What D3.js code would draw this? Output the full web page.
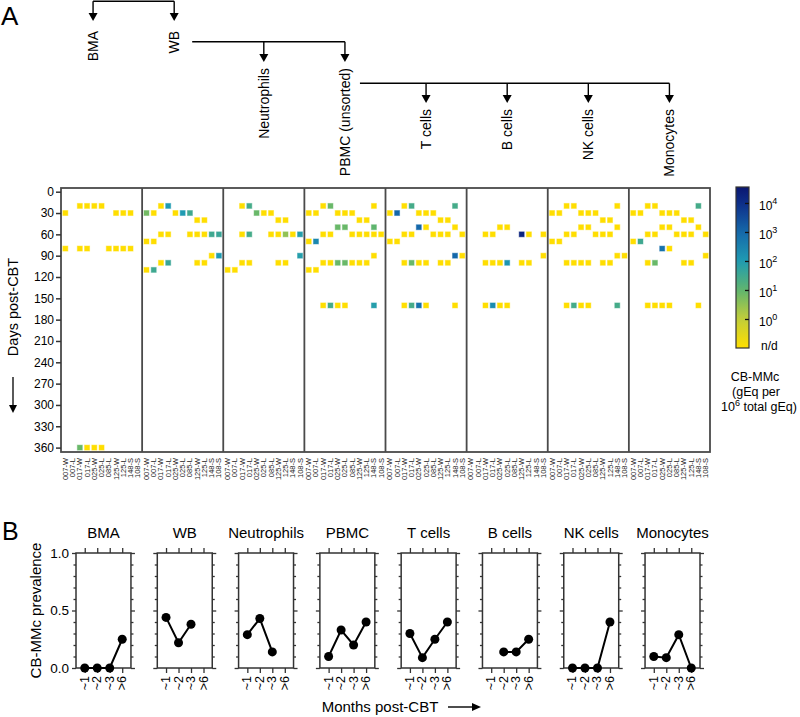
<!DOCTYPE html>
<html><head><meta charset="utf-8">
<script src="https://cdn.jsdelivr.net/npm/d3@7"></script>
<style>
body{margin:0;background:#fff}
svg{display:block;font-family:"Liberation Sans",Arial,Helvetica,sans-serif}
</style></head><body>
<svg id="c" width="800" height="717"></svg>
<script>
// ---------------- DATA ----------------
const cellTypes = ["BMA","WB","Neutrophils","PBMC (unsorted)","T cells","B cells","NK cells","Monocytes"];
const panelTitlesB = ["BMA","WB","Neutrophils","PBMC","T cells","B cells","NK cells","Monocytes"];
const patients = ["007-W","007-L","017-W","017-L","025-W","025-L","085-L","125-W","125-L","148-S","108-S"];
const dayTicks = [0,30,60,90,120,150,180,210,240,270,300,330,360];
const colorbarTicks = [0,1,2,3,4];
// samples: [day post-CBT, patient index, log10 CB-MMc (null = n/d)]
const hmBMA = [[20,2,null],[20,3,null],[20,4,null],[20,5,null],
  [30,0,null],[30,7,null],[30,8,null],[30,9,null],
  [80,0,null],[80,2,null],[80,3,null],[80,6,null],[80,7,null],[80,8,null],[80,9,null],
  [360,2,0.9],[360,3,null],[360,4,null],[360,5,null]];
const hmWB = [[20,2,null],[20,3,2.0],
  [30,0,0.8],[30,1,null],[30,4,null],[30,5,2.0],[30,6,1.5],
  [40,7,null],[40,8,null],
  [60,2,null],[60,3,null],[60,6,null],[60,7,null],[60,8,null],[60,9,1.5],[60,10,1.6],
  [70,0,null],[70,1,null],
  [90,9,null],[90,10,2.0],
  [100,2,null],[100,3,1.6],[100,7,null],[100,8,null],
  [110,0,null],[110,1,1.5]];
const hmNeutrophils = [[20,2,null],[20,3,1.4],
  [30,4,0.9],[30,5,null],[30,6,null],
  [40,7,null],[40,8,null],
  [60,2,null],[60,3,1.4],[60,6,null],[60,7,null],[60,8,0.5],[60,9,null],[60,10,1.9],
  [90,10,1.9],
  [100,2,null],[100,3,null],[100,7,null],[100,8,null],
  [110,0,null],[110,1,null]];
const hmPBMC = [[20,2,null],[20,3,0.9],[20,9,null],
  [30,0,null],[30,1,null],[30,4,null],[30,5,null],[30,6,null],
  [40,7,null],[40,8,null],
  [50,4,0.9],[50,5,0.9],[50,9,1.0],
  [60,2,null],[60,3,null],[60,6,null],[60,7,null],[60,8,null],[60,9,null],[60,10,null],
  [70,0,null],[70,1,2.4],
  [90,9,null],
  [100,2,null],[100,3,null],[100,4,0.9],[100,5,0.9],[100,6,null],[100,7,null],[100,8,null],
  [110,0,null],[110,1,null],
  [160,2,null],[160,3,1.4],[160,4,null],[160,5,null],[160,9,1.9]];
const hmTcells = [[20,2,null],[20,3,1.4],[20,9,1.4],
  [30,0,null],[30,1,3.0],[30,4,null],[30,5,null],[30,6,null],
  [40,7,null],[40,8,null],
  [50,4,3.0],[50,5,null],[50,9,null],
  [60,2,null],[60,3,null],[60,6,null],[60,7,null],[60,8,null],[60,10,null],
  [70,0,null],[70,1,null],
  [90,9,3.0],[90,10,null],
  [100,2,null],[100,3,0.9],[100,4,null],[100,5,null],[100,7,null],[100,8,null],
  [160,2,null],[160,3,1.4],[160,4,2.8],[160,5,null],[160,9,null]];
const hmBcells = [[50,4,null],[50,5,null],
  [60,2,null],[60,3,null],[60,7,4.2],[60,8,null],[60,10,null],
  [90,10,null],
  [100,2,null],[100,3,null],[100,4,null],[100,5,2.1],[100,7,null],[100,8,null],
  [160,2,null],[160,3,2.3],[160,4,null],[160,5,null]];
const hmNKcells = [[20,2,null],[20,3,null],[20,9,null],
  [30,0,null],[30,1,null],[30,4,null],[30,5,null],[30,6,null],
  [40,7,null],[40,8,null],
  [50,4,null],[50,5,null],[50,9,null],
  [60,2,null],[60,3,null],[60,6,null],[60,7,null],[60,8,null],
  [70,0,null],[70,1,null],
  [90,9,null],[90,10,null],
  [100,2,null],[100,3,null],[100,4,null],[100,5,null],[100,7,null],[100,8,null],
  [160,2,null],[160,3,1.4],[160,4,null],[160,5,null],[160,9,1.4]];
const hmMonocytes = [[20,2,null],[20,3,null],[20,9,1.4],
  [30,0,null],[30,1,null],[30,4,null],[30,5,null],[30,6,null],
  [40,7,null],[40,8,null],
  [50,4,null],[50,5,null],[50,9,null],
  [60,2,null],[60,3,null],[60,6,null],[60,7,null],[60,8,null],[60,10,null],
  [70,0,null],[70,1,1.5],
  [80,4,2.8],[80,5,null],
  [90,10,null],
  [100,2,null],[100,3,0.9],[100,7,null],[100,8,null],
  [160,2,null],[160,3,null],[160,4,null],[160,5,null],[160,9,null]];
const heatmaps = [hmBMA,hmWB,hmNeutrophils,hmPBMC,hmTcells,hmBcells,hmNKcells,hmMonocytes];

const timeBins = ["~1","~2","~3",">6"];
const prevBMA = [0,0,0,0.25];
const prevWB = [0.44,0.22,0.38,null];
const prevNeutrophils = [0.29,0.43,0.14,null];
const prevPBMC = [0.10,0.33,0.20,0.40];
const prevTcells = [0.30,0.09,0.25,0.40];
const prevBcells = [null,0.14,0.14,0.25];
const prevNKcells = [0,0,0,0.40];
const prevMonocytes = [0.10,0.09,0.29,0];
const prevalence = [prevBMA,prevWB,prevNeutrophils,prevPBMC,prevTcells,prevBcells,prevNKcells,prevMonocytes];

// tree: parent -> children
const tree = [
  {parent:null, children:["BMA","WB"]},
  {parent:"WB", children:["Neutrophils","PBMC (unsorted)"]},
  {parent:"PBMC (unsorted)", children:["T cells","B cells","NK cells","Monocytes"]}
];

// ---------------- STYLE / LAYOUT ----------------
const cbStops = [-1,0,1,2,3,4,4.55];
const cbColors = ["#FFDE00","#C2CE3A","#5FB56E","#1F9BB2","#1568AA","#0E2E88","#0A1670"];
const color = d3.scaleLinear().domain(cbStops).range(cbColors).interpolate(d3.interpolateRgb);

const svg = d3.select("#c");

// panel letters
svg.append("text").attr("x",1).attr("y",25).attr("font-size",26).text("A");
svg.append("text").attr("x",2).attr("y",540).attr("font-size",25).text("B");

// heatmap scales
const hm = {left:61,right:710,top:188,bottom:452};
const xPanel = d3.scaleBand().domain(cellTypes).range([hm.left,hm.right]);
const xCol = d3.scaleBand().domain(d3.range(patients.length)).range([0,xPanel.bandwidth()]).paddingOuter(0.1);
const yDay = d3.scaleLinear().domain([0,360]).range([191.7,447.6]);

// ---- tree ----
const treeGeom = [ {y:1.2, tip:21, labelTop:31, startOff:0},
                   {y:41.7, tip:62, labelTop:68, startOff:18},
                   {y:83.3, tip:103, labelTop:109, startOff:15} ];
const treeX = d => xPanel(d) + xPanel.bandwidth()/2 + ((d==="BMA"||d==="WB") ? -8.5 : 0);
const tg = svg.append("g");
tree.forEach((lvl,i)=>{
  const g = treeGeom[i];
  const xs = lvl.children.map(treeX);
  const x0 = lvl.parent ? treeX(lvl.parent) + g.startOff : xs[0];
  tg.append("line").attr("x1",x0).attr("x2",d3.max(xs)).attr("y1",g.y).attr("y2",g.y)
    .attr("stroke","#000").attr("stroke-width",1.4);
  lvl.children.forEach(c=>{
    const x = treeX(c);
    tg.append("line").attr("x1",x).attr("x2",x).attr("y1",g.y).attr("y2",g.tip-6)
      .attr("stroke","#000").attr("stroke-width",1.4);
    tg.append("path").attr("d",`M${x-4.5},${g.tip-8}L${x+4.5},${g.tip-8}L${x},${g.tip}Z`).attr("fill","#000");
    tg.append("text").attr("transform",`translate(${x},${g.labelTop}) rotate(-90)`)
      .attr("text-anchor","end").attr("dominant-baseline","central").attr("font-size",14).text(c);
  });
});

// ---- heatmap squares ----
const sq = 6;
const hg = svg.append("g");
cellTypes.forEach((ct,i)=>{
  const px = xPanel(ct);
  hg.selectAll(null).data(heatmaps[i]).join("rect")
    .attr("x",d=>px + xCol(d[1]) + xCol.bandwidth()/2 - sq/2 + 0.5)
    .attr("y",d=>yDay(d[0]) - sq/2 + 0.5)
    .attr("width",sq-1).attr("height",sq-1)
    .attr("fill",d=>color(d[2]===null ? -1 : d[2]))
    .attr("stroke",d=>color(d[2]===null ? -1 : d[2]))
    .attr("stroke-opacity",0.45).attr("stroke-width",1);
  // column labels
  hg.selectAll(null).data(patients).join("text")
    .attr("transform",(d,k)=>`translate(${px + xCol(k) + xCol.bandwidth()/2},${hm.bottom+6}) rotate(-90)`)
    .attr("text-anchor","end").attr("dominant-baseline","central")
    .attr("font-size",7.5).attr("fill","#222").text(d=>d);
});
// frame
const fr = svg.append("g").attr("stroke","#4a4a4a").attr("stroke-width",1.8).attr("fill","none");
fr.append("rect").attr("x",hm.left).attr("y",hm.top).attr("width",hm.right-hm.left).attr("height",hm.bottom-hm.top);
cellTypes.slice(1).forEach(ct=>{
  fr.append("line").attr("x1",xPanel(ct)).attr("x2",xPanel(ct)).attr("y1",hm.top).attr("y2",hm.bottom);
});
// y axis
const ya = svg.append("g").attr("transform",`translate(${hm.left},0)`)
  .call(d3.axisLeft(yDay).tickValues(dayTicks).tickSize(5).tickPadding(2));
ya.select(".domain").remove();
ya.selectAll("line").attr("stroke","#333").attr("stroke-width",1.5);
ya.selectAll("text").attr("font-size",12).attr("font-family",null).attr("fill","#000");
svg.append("text").attr("transform","translate(13,307) rotate(-90)")
  .attr("text-anchor","middle").attr("dominant-baseline","central").attr("font-size",14.5).text("Days post-CBT");
svg.append("line").attr("x1",13).attr("x2",13).attr("y1",377).attr("y2",408).attr("stroke","#000").attr("stroke-width",1.3);
svg.append("path").attr("d","M9,405L17,405L13,413Z").attr("fill","#000");

// ---- colorbar ----
const cb = {x:736, w:13};
const yCb = d3.scaleLinear().domain([-1,4.55]).range([348,187]);
const defs = svg.append("defs");
const grad = defs.append("linearGradient").attr("id","cbg").attr("x1",0).attr("y1",1).attr("x2",0).attr("y2",0);
d3.range(0,1.0001,0.05).forEach(t=>{
  const v = -1 + t*5.55;
  grad.append("stop").attr("offset",t).attr("stop-color",color(v));
});
svg.append("rect").attr("x",cb.x).attr("y",yCb(4.55)).attr("width",cb.w).attr("height",yCb(-1)-yCb(4.55))
  .attr("fill","url(#cbg)").attr("stroke","#333").attr("stroke-width",1.2);
const cba = svg.append("g").attr("transform",`translate(${cb.x+cb.w},0)`)
  .call(d3.axisLeft(yCb).tickValues(colorbarTicks).tickSize(4).tickFormat(""));
cba.select(".domain").remove();
cba.selectAll("line").attr("stroke","#111").attr("stroke-width",1.3);
colorbarTicks.forEach(k=>{
  const t = svg.append("text").attr("x",cb.x+cb.w+10).attr("y",yCb(k)+7).attr("font-size",12);
  t.append("tspan").text("10");
  t.append("tspan").attr("dy",-6).attr("font-size",9).text(k);
});
svg.append("text").attr("x",cb.x+cb.w+12).attr("y",yCb(-1)+2).attr("font-size",12).text("n/d");
const cbt = svg.append("text").attr("text-anchor","middle").attr("font-size",12.5);
cbt.append("tspan").attr("x",755).attr("y",381).text("CB-MMc");
cbt.append("tspan").attr("x",756).attr("y",396).text("(gEq per");
const l3 = svg.append("text").attr("text-anchor","middle").attr("x",759).attr("y",411).attr("font-size",12.5);
l3.append("tspan").text("10");
l3.append("tspan").attr("dy",-5).attr("font-size",9).text("6");
l3.append("tspan").attr("dy",5).text(" total gEq)");

// ---- Panel B ----
const bp = {left:76,right:700,top:553,bottom:668};
const xB = d3.scaleBand().domain(panelTitlesB).range([bp.left,bp.right]).paddingInner(0.324);
const yB = d3.scaleLinear().domain([0,1]).range([bp.bottom,bp.top]);
const xT = d3.scalePoint().domain(timeBins).range([0,xB.bandwidth()]).padding(0.7);
const minorTicks = [0.1,0.2,0.3,0.4,0.6,0.7,0.8,0.9];
panelTitlesB.forEach((name,i)=>{
  const g = svg.append("g").attr("transform",`translate(${xB(name)},0)`);
  const bw = xB.bandwidth();
  g.append("text").attr("x",bw/2).attr("y",538).attr("text-anchor","middle").attr("font-size",15).text(name);
  const axes = [
    d3.axisLeft(yB).tickValues([0,0.5,1]).tickSize(4).tickFormat(i===0 ? d3.format(".1f") : ""),
    d3.axisLeft(yB).tickValues(minorTicks).tickSize(2.5).tickFormat(""),
  ];
  axes.forEach(a=>{
    const ag = g.append("g").call(a.tickPadding(3));
    ag.select(".domain").remove();
    ag.selectAll("line").attr("stroke","#333").attr("stroke-width",1.3);
    ag.selectAll("text").attr("font-size",13.5).attr("font-family",null).attr("fill","#000");
  });
  [d3.axisRight(yB).tickValues([0,0.5,1]).tickSize(4), d3.axisRight(yB).tickValues(minorTicks).tickSize(2.5)].forEach(a=>{
    const ag = g.append("g").attr("transform",`translate(${bw},0)`).call(a.tickFormat(""));
    ag.select(".domain").remove();
    ag.selectAll("line").attr("stroke","#333").attr("stroke-width",1.3);
  });
  const top = g.append("g").attr("transform",`translate(0,${bp.top})`).call(d3.axisTop(xT).tickSize(5).tickFormat(""));
  top.select(".domain").remove();
  top.selectAll("line").attr("stroke","#333").attr("stroke-width",1.3);
  const bot = g.append("g").attr("transform",`translate(0,${bp.bottom})`).call(d3.axisBottom(xT).tickSize(5).tickFormat(""));
  bot.select(".domain").remove();
  bot.selectAll("line").attr("stroke","#333").attr("stroke-width",1.3);
  g.selectAll(null).data(timeBins).join("text")
    .attr("transform",d=>`translate(${xT(d)},${bp.bottom+8}) rotate(-90)`)
    .attr("text-anchor","end").attr("dominant-baseline","central").attr("font-size",12.5).text(d=>d);
  g.append("rect").attr("x",0).attr("y",bp.top).attr("width",bw).attr("height",bp.bottom-bp.top)
    .attr("fill","none").attr("stroke","#333").attr("stroke-width",1.5);
  const pts = timeBins.map((t,k)=>({t, v:prevalence[i][k]}));
  g.append("path").datum(pts).attr("fill","none").attr("stroke","#000").attr("stroke-width",2)
    .attr("d",d3.line().defined(d=>d.v!==null).x(d=>xT(d.t)).y(d=>yB(d.v)));
  g.selectAll(null).data(pts.filter(d=>d.v!==null)).join("circle")
    .attr("cx",d=>xT(d.t)).attr("cy",d=>yB(d.v)).attr("r",4.5).attr("fill","#000");
});
svg.append("text").attr("transform",`translate(35,${(bp.top+bp.bottom)/2}) rotate(-90)`)
  .attr("text-anchor","middle").attr("dominant-baseline","central").attr("font-size",15).text("CB-MMc prevalence");
svg.append("text").attr("x",380).attr("y",712).attr("text-anchor","middle").attr("font-size",15).text("Months post-CBT");
svg.append("line").attr("x1",448).attr("x2",474).attr("y1",707).attr("y2",707).attr("stroke","#000").attr("stroke-width",1.4);
svg.append("path").attr("d","M472,703L481,707L472,711Z").attr("fill","#000");
</script>
</body></html>
